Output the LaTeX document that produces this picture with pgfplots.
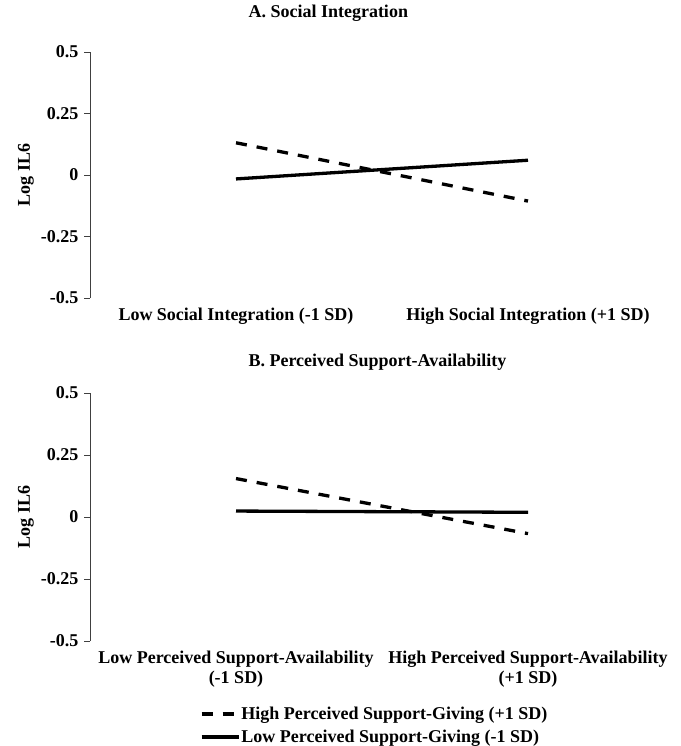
\documentclass[border=0pt]{standalone}
\usepackage{fontspec}
\setmainfont{Liberation Serif}
\usepackage{pgfplots}
\pgfplotsset{compat=1.18}
\newcommand\f{\fontsize{18}{20}\selectfont\bfseries}
\pgfplotsset{
  myaxis/.style={
    scale only axis,
    width=584pt,
    xmin=-0.5, xmax=1.5,
    ymin=-0.5, ymax=0.5,
    enlargelimits=false,
    axis lines=left,
    axis line style={-, line width=0.9pt, draw=black!75},
    x axis line style={draw=none},
    xtick={0,1},
    xtick style={draw=none},
    ytick={-0.5,-0.25,0,0.25,0.5},
    yticklabels={-0.5,-0.25,0,0.25,0.5},
    ytick style={line width=0.9pt, draw=black!75},
    tick align=outside,
    major tick length=6pt,
    yticklabel style={font=\f, xshift=-2pt},
    xticklabel style={font=\f, align=center},
    ylabel={Log IL6},
    every axis y label/.style={at={(axis description cs:-0.1096,0.5)}, rotate=90, anchor=center, font=\f},
    title style={font=\f, anchor=west},
    clip=false,
  },
  hi/.style={black, line width=3.3pt, dash pattern=on 11pt off 10pt},
  lo/.style={black, line width=3.3pt},
}
\begin{document}
\begin{tikzpicture}
\useasboundingbox (0pt,0pt) rectangle (680pt,-746pt);
\begin{axis}[myaxis,
  at={(90pt,-298pt)}, anchor=south west,
  height=246pt,
  xticklabels={Low Social Integration (-1 SD), High Social Integration (+1 SD)},
  title={A. Social Integration},
  title style={at={(axis description cs:0.2654,1.134)}},
]
\addplot[hi] coordinates {(0,0.131) (1,-0.106)};
\addplot[lo] coordinates {(0,-0.016) (1,0.060)};
\end{axis}
\begin{axis}[myaxis,
  at={(90pt,-641pt)}, anchor=south west,
  height=248pt,
  xticklabels={{Low Perceived Support-Availability\\(-1 SD)}, {High Perceived Support-Availability\\(+1 SD)}},
  title={B. Perceived Support-Availability},
  title style={at={(axis description cs:0.2654,1.101)}},
  legend style={draw=none, fill=none, at={(axis description cs:0.183,-0.253)}, anchor=north west,
    font=\f, row sep=7pt, nodes={inner sep=1pt}},
  legend cell align=left,
  legend image code/.code={\draw[#1] (0pt,0pt) -- (37pt,0pt);},
]
\addplot[hi] coordinates {(0,0.155) (1,-0.067)};
\addlegendentry{High Perceived Support-Giving (+1 SD)}
\addplot[lo] coordinates {(0,0.024) (1,0.019)};
\addlegendentry{Low Perceived Support-Giving (-1 SD)}
\end{axis}
\end{tikzpicture}
\end{document}
